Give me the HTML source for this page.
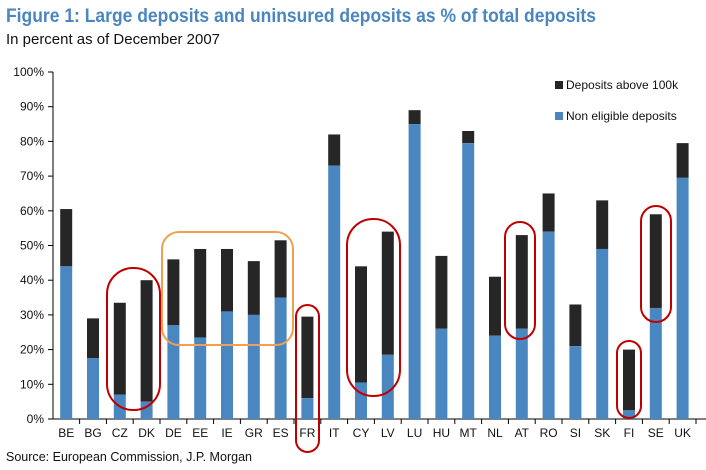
<!DOCTYPE html>
<html><head><meta charset="utf-8"><style>
body{margin:0;background:#fff;width:706px;height:470px;overflow:hidden}
svg{display:block;font-family:"Liberation Sans",Arial,sans-serif}
</style></head><body>
<svg id="s" width="706" height="470" xmlns="http://www.w3.org/2000/svg">
<text x="6" y="22" font-size="19" font-weight="bold" fill="#4a86c0" textLength="590" lengthAdjust="spacingAndGlyphs">Figure 1: Large deposits and uninsured deposits as % of total deposits</text>
<text x="6" y="44" font-size="15" fill="#111" textLength="214" lengthAdjust="spacingAndGlyphs">In percent as of December 2007</text>
<text x="6" y="461" font-size="13" fill="#111" textLength="246" lengthAdjust="spacingAndGlyphs">Source: European Commission, J.P. Morgan</text>
<g id="g"></g>
<rect x="555" y="81" width="8" height="8" fill="#262626"/>
<text x="566" y="89" font-size="12" fill="#111">Deposits above 100k</text>
<rect x="555" y="112" width="8" height="8" fill="#4a86c0"/>
<text x="566" y="120" font-size="12" fill="#111">Non eligible deposits</text>
<rect x="162" y="232" width="131" height="113" rx="17" fill="none" stroke="#f0a050" stroke-width="2"/>
<g fill="none" stroke="#c00000" stroke-width="2">
<rect x="107" y="268" width="53" height="142" rx="26"/>
<rect x="296" y="305" width="23" height="147" rx="11.5"/>
<rect x="347" y="219" width="53" height="177" rx="26"/>
<rect x="505" y="222" width="30" height="117" rx="15"/>
<rect x="617" y="341" width="24" height="77" rx="12"/>
<rect x="641" y="206" width="30" height="116" rx="15"/>
</g>
</svg>
<script>
var d=[["BE",44,60.5],["BG",17.5,29],["CZ",7,33.5],["DK",5,40],["DE",27,46],["EE",23.5,49],["IE",31,49],["GR",30,45.5],["ES",35,51.5],["FR",6,29.5],["IT",73,82],["CY",10.5,44],["LV",18.5,54],["LU",85,89],["HU",26,47],["MT",79.5,83],["NL",24,41],["AT",26,53],["RO",54,65],["SI",21,33],["SK",49,63],["FI",2.5,20],["SE",32,59],["UK",69.5,79.5]];
var h='',y0=419,k=3.47,w=26.8,x0=66.2-w/2;
for(var i=0;i<=10;i++){var y=y0-i*10*k;h+='<line x1="48" x2="53" y1="'+y+'" y2="'+y+'" stroke="#000"/><text x="44" y="'+(y+4)+'" font-size="12" text-anchor="end" fill="#111">'+i*10+'%</text>';}
h+='<line x1="53" x2="53" y1="72" y2="419" stroke="#000"/><line x1="53" x2="706" y1="419" y2="419" stroke="#000"/>';
d.forEach(function(r,i){var c=x0+w*(i+0.5);var bw=12;
h+='<rect x="'+(c-bw/2)+'" y="'+(y0-r[2]*k)+'" width="'+bw+'" height="'+((r[2]-r[1])*k)+'" fill="#262626"/>';
h+='<rect x="'+(c-bw/2)+'" y="'+(y0-r[1]*k)+'" width="'+bw+'" height="'+(r[1]*k)+'" fill="#4a86c0"/>';
h+='<line x1="'+(x0+w*(i+1))+'" x2="'+(x0+w*(i+1))+'" y1="419" y2="424" stroke="#000"/>';
h+='<text x="'+c+'" y="437" font-size="12" text-anchor="middle" fill="#111">'+r[0]+'</text>';});
document.getElementById('g').innerHTML=h;
</script>
</body></html>
